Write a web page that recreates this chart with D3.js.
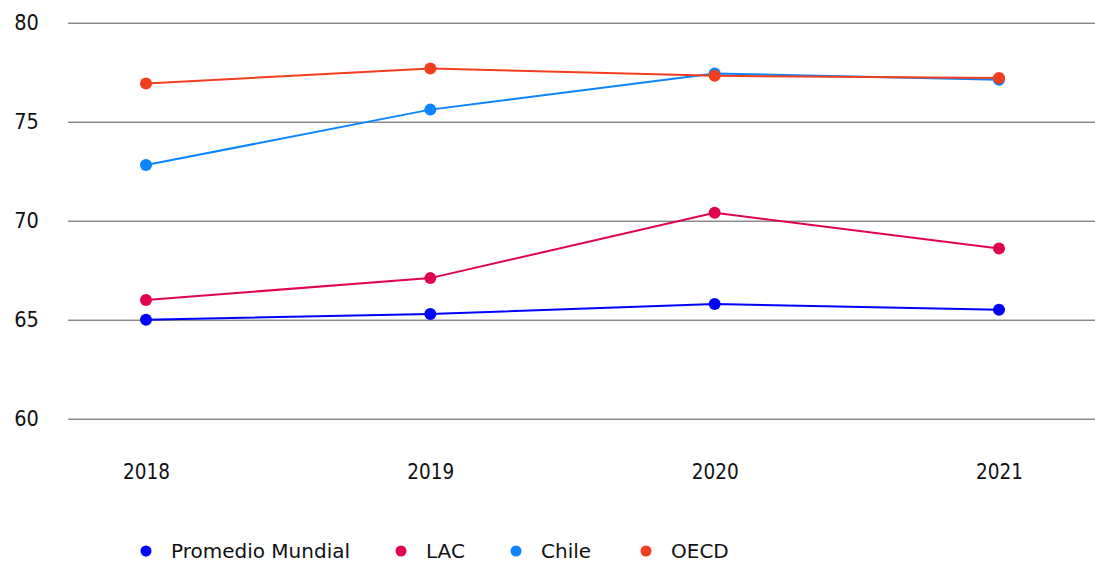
<!DOCTYPE html>
<html><head><meta charset="utf-8">
<script src="https://cdn.jsdelivr.net/npm/d3@7"></script>
<style>body{margin:0;background:#fff}svg{display:block;font-family:"DejaVu Sans",sans-serif}
.ax text{font-family:"Liberation Sans Narrow","DejaVu Sans Condensed",sans-serif}</style>
</head><body>
<svg id="c" width="1095" height="562"></svg>
<script>
const years = ["2018","2019","2020","2021"];
const seriesNames = ["Promedio Mundial","LAC","Chile","OECD"];
const seriesColors = ["#0000ff","#e0044f","#0a84ff","#f03e1e"];
const promedioMundial = [65.0, 65.29, 65.79, 65.5];
const lac = [66.0, 67.1, 70.4, 68.6];
const chile = [72.81, 75.61, 77.44, 77.12];
const oecd = [76.93, 77.69, 77.32, 77.21];
const yTicks = [60,65,70,75,80];
const seriesValues = [promedioMundial, lac, chile, oecd];

const svg = d3.select("#c");
const x = d3.scalePoint().domain(years).range([146, 999]);
const y = d3.scaleLinear().domain([60,80]).range([418.7, 22.7]);

// gridlines + y labels
const yAxis = d3.axisLeft(y).tickValues(yTicks).tickSize(-(1095-68)).tickFormat(d3.format("d"));
const gy = svg.append("g").attr("class","ax").attr("transform","translate(68,0)").call(yAxis);
gy.select(".domain").remove();
gy.selectAll(".tick line").attr("stroke","#555").attr("stroke-width",1);
gy.selectAll(".tick text").attr("font-size",21.5).attr("fill","#111").attr("text-anchor","middle").attr("x",-41.5);

// x axis labels
const xAxis = d3.axisBottom(x).tickSize(0).tickPadding(0);
const gx = svg.append("g").attr("class","ax").attr("transform","translate(0,479)").call(xAxis);
gx.select(".domain").remove();
gx.selectAll(".tick text").attr("font-size",20.5).attr("fill","#111").attr("dy",0).attr("y",0);

const line = d3.line().x((d,i)=>x(years[i])).y(d=>y(d));
seriesValues.forEach((vals,si)=>{
  svg.append("path").datum(vals).attr("d",line).attr("fill","none")
    .attr("stroke",seriesColors[si]).attr("stroke-width",2);
});
seriesValues.forEach((vals,si)=>{
  svg.append("g").selectAll("circle").data(vals).join("circle")
    .attr("cx",(d,i)=>x(years[i])).attr("cy",d=>y(d)).attr("r",6)
    .attr("fill",seriesColors[si]);
});

// legend
const legendX = [146, 401, 516, 646];
const lg = svg.append("g").attr("transform","translate(0,551)");
seriesNames.forEach((n,i)=>{
  lg.append("circle").attr("cx",legendX[i]).attr("cy",0).attr("r",5.5).attr("fill",seriesColors[i]);
  lg.append("text").attr("x",legendX[i]+25).attr("y",7)
    .attr("font-size",20).attr("fill","#111").text(n);
});
</script>
</body></html>
